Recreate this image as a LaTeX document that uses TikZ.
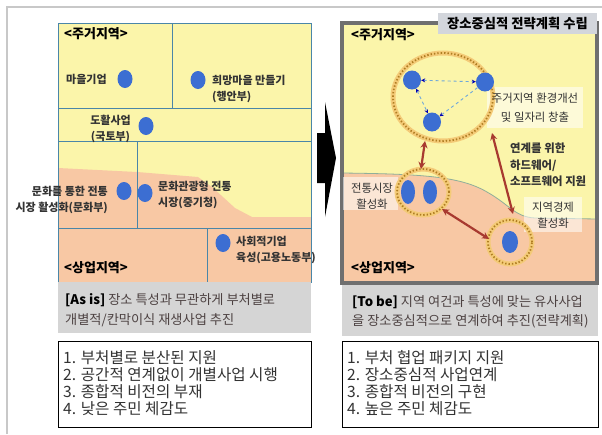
\documentclass[tikz,border=0pt]{standalone}
\usepackage{fontspec}
\setmainfont{Noto Sans CJK KR}
\usetikzlibrary{shapes.geometric,arrows.meta}
\definecolor{yellowc}{HTML}{FBF5AA}
\definecolor{salmonc}{HTML}{F8C8A4}
\definecolor{linec}{HTML}{4A86A8}
\definecolor{framegray}{HTML}{6F6F6F}
\definecolor{grayboxc}{HTML}{D5D5D5}
\definecolor{titlegray}{HTML}{D3D6DC}
\definecolor{dotblue}{HTML}{3C6ED2}
\definecolor{ringhalo}{HTML}{F4CB78}
\definecolor{ringdot}{HTML}{B07E22}
\definecolor{redarrow}{HTML}{A83A30}
\definecolor{bluedash}{HTML}{6FA8DA}
\definecolor{labelc}{HTML}{333333}
\definecolor{mutedc}{HTML}{4D4242}
\definecolor{outerc}{HTML}{C8C8C8}
\definecolor{bordc}{HTML}{8FAF9A}
\begin{document}
\begin{tikzpicture}[x=1pt,y=-1pt,
  lbl/.style={font=\bfseries\fontsize{11}{16.5}\selectfont, text=labelc, inner sep=0pt},
  zone/.style={font=\bfseries\fontsize{13}{15}\selectfont, text=black, inner sep=0pt, anchor=west},
  dot/.style={ellipse, fill=dotblue, minimum width=15pt, minimum height=18pt, inner sep=0pt},
  ring/.style={ellipse, inner sep=0pt, draw=ringhalo, line width=5pt,
     postaction={draw=ringdot, line width=1.8pt, dash pattern=on 1.4pt off 2pt}},
  redarr/.style={draw=redarrow, line width=2.2pt, {Stealth[length=7pt,width=7pt]}-{Stealth[length=7pt,width=7pt]}},
  bluearr/.style={draw=bluedash, line width=0.9pt, dashed, arrows={-Stealth[length=4pt,width=4pt,blue!70!black]}},
  graytext/.style={font=\fontsize{13.2}{19.5}\selectfont, text=mutedc, inner sep=0pt, anchor=west, align=left},
  listtext/.style={font=\fontsize{15.6}{17}\selectfont, text=labelc, inner sep=0pt, anchor=west, align=left},
  whitebox/.style={fill=white, fill opacity=0.55, draw=none}
]
\useasboundingbox (0,0) rectangle (602,434);
% outer frame
\draw[outerc, line width=2pt] (7,434) -- (7,7) -- (602,7);

% ================= LEFT PANEL =================
\fill[yellowc] (58,23) rectangle (311,282);
\fill[salmonc] (58,168) -- (137,172) -- (198,177) -- (212,187) -- (235,208) -- (252,217) -- (311,217) -- (311,282) -- (58,282) -- cycle;
\draw[linec, line width=1pt] (58,23) rectangle (311,282);
\draw[linec, line width=1pt] (58,108) -- (311,108);
\draw[linec, line width=1pt] (58,141) -- (311,141);
\draw[linec, line width=1pt] (58,228) -- (311,228);
\draw[linec, line width=1pt] (172,23) -- (172,108);
\draw[linec, line width=1pt] (137,141) -- (137,228);
\draw[linec, line width=1pt] (207,228) -- (207,282);

\node[zone] (lzone1) at (64,34) {<주거지역>};
\node[zone] (lzone2) at (64,268) {<상업지역>};

\node[lbl, anchor=west] (l1) at (66,79) {마을기업};
\node[dot] (d1) at (125,79) {};
\node[dot] (d2) at (198,80) {};
\node[lbl, anchor=west, align=left] (l2) at (212,89) {희망마을 만들기\\(행안부)};
\node[lbl, anchor=east, align=center] (l3) at (131,129) {도활사업\\(국토부)};
\node[dot] (d3) at (146,126) {};
\node[lbl, anchor=east, align=right] (l4) at (108,200) {문화를 통한 전통\\시장 활성화(문화부)};
\node[dot] (d4) at (124,191) {};
\node[dot] (d5) at (145,193) {};
\node[lbl, anchor=west, align=left] (l5) at (158,195) {문화관광형 전통\\시장(중기청)};
\node[dot] (d6) at (223,243) {};
\node[lbl, anchor=west, align=left] (l6) at (236,250) {사회적기업\\육성(고용노동부)};

% gray text left
\fill[grayboxc] (58,282) rectangle (311,333);
\node[graytext] (asis) at (65,310) {\textcolor{black}{\bfseries [As is]} 장소 특성과 무관하게 부처별로\\개별적/칸막이식 재생사업 추진};

% list left
\draw[black, line width=1pt, fill=white] (58,341) rectangle (311,427);
\node[listtext] (listl) at (63,383) {1. 부처별로 분산된 지원\\2. 공간적 연계없이 개별사업 시행\\3. 종합적 비전의 부재\\4. 낮은 주민 체감도};

% ================= BIG ARROW =================
\fill[black] (317,133) -- (325,133) -- (325,102) -- (336,158) -- (325,217) -- (325,183) -- (317,183) -- cycle;

% ================= RIGHT PANEL =================
\begin{scope}
\clip (342,23) rectangle (597,283);
\fill[yellowc] (342,23) rectangle (597,283);
\fill[salmonc] (342,173) .. controls (420,174) and (460,176) .. (487,192)
   .. controls (510,205) and (515,217) .. (535,218) -- (597,219) -- (597,283) -- (342,283) -- cycle;
\draw[bordc, line width=0.8pt] (342,173) .. controls (420,174) and (460,176) .. (487,192)
   .. controls (510,205) and (515,217) .. (535,218) -- (597,219);
\end{scope}
\draw[framegray, line width=4pt] (342,23) rectangle (597,283);

\node[fill=titlegray, minimum width=159pt, minimum height=21pt, inner sep=0pt,
  font=\bfseries\fontsize{13.3}{15}\selectfont] (title) at (517.5,23) {장소중심적 전략계획 수립};

\node[zone] (rzone1) at (351,35) {<주거지역>};
\node[zone] (rzone2) at (351,268) {<상업지역>};

% white boxes behind texts
\fill[whitebox] (487,87) rectangle (583,128);
\fill[whitebox] (343,177) rectangle (398,210);
\fill[whitebox] (524,197) rectangle (582,232);

% rings
\node[ring, minimum width=100pt, minimum height=88pt] (ringA) at (443,97) {};
\node[ring, minimum width=52pt, minimum height=46pt] (ringB) at (423,192) {};
\node[ring, minimum width=44pt, minimum height=44pt] (ringC) at (510,242) {};

% dots
\node[dot, minimum width=18pt, minimum height=19pt] (r1) at (412,80) {};
\node[dot, minimum width=18pt, minimum height=19pt] (r2) at (485,82) {};
\node[dot, minimum width=18pt, minimum height=19pt] (r3) at (432,122) {};
\node[dot, minimum width=14pt, minimum height=24pt] (r4) at (408,192) {};
\node[dot, minimum width=14pt, minimum height=24pt] (r5) at (430,192) {};
\node[dot, minimum width=16pt, minimum height=22pt] (r6) at (510,242) {};

% blue dashed arrows
\draw[bluearr, arrows={Stealth[length=4pt,width=4pt,blue!70!black]-Stealth[length=4pt,width=4pt,blue!70!black]}] (r1) -- (r2);
\draw[bluearr, arrows={Stealth[length=4pt,width=4pt,blue!70!black]-Stealth[length=4pt,width=4pt,blue!70!black]}] (r1) -- (r3);
\draw[bluearr] (r2) -- (r3);

% red arrows
\coordinate (a1s) at (425,141);
\coordinate (a1e) at (421,169);
\coordinate (a2s) at (492,133);
\coordinate (a2e) at (513,214);
\coordinate (a3s) at (442,209);
\coordinate (a3e) at (489,239);
\draw[redarr] (a1s) -- (a1e);
\draw[redarr] (a2s) -- (a2e);
\draw[redarr] (a3s) -- (a3e);

% texts
\node[lbl, font=\fontsize{11.4}{18.5}\selectfont, text=labelc, align=center] (t1) at (535,107.5) {주거지역 환경개선\\및 일자리 창출};
\node[lbl, font=\bfseries\fontsize{11.4}{16.5}\selectfont, anchor=west, align=left] (t2) at (510,165) {연계를 위한\\하드웨어/\\소프트웨어 지원};
\node[lbl, font=\fontsize{11.4}{16}\selectfont, align=center] (t3) at (372,196) {전통시장\\활성화};
\node[lbl, font=\fontsize{11.4}{16}\selectfont, align=center] (t4) at (553,215) {지역경제\\활성화};

% gray text right
\fill[grayboxc] (342,285) rectangle (598,336);
\node[graytext] (tobe) at (352,312) {\textcolor{black}{\bfseries [To be]} 지역 여건과 특성에 맞는 유사사업\\을 장소중심적으로 연계하여 추진(전략계획)};

% list right
\draw[black, line width=1pt, fill=white] (342,341) rectangle (598,427);
\node[listtext] (listr) at (347,383) {1. 부처 협업 패키지 지원\\2. 장소중심적 사업연계\\3. 종합적 비전의 구현\\4. 높은 주민 체감도};
\end{tikzpicture}
\end{document}
